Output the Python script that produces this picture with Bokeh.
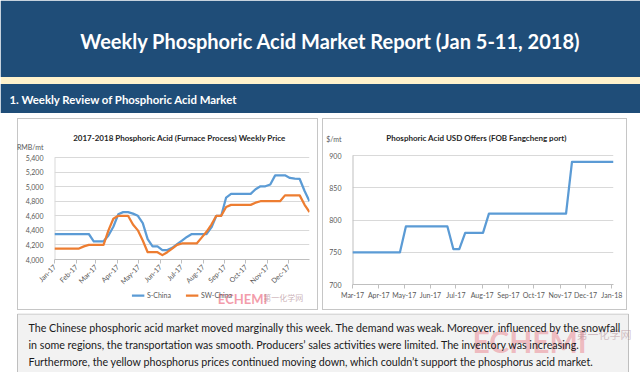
import math
import pandas as pd
from bokeh.plotting import figure
from bokeh.layouts import column, row
from bokeh.models import (Range1d, Label, Legend, LegendItem, MonthsTicker,
                          DatetimeTickFormatter, NumeralTickFormatter, FixedTicker)
from bokeh.core.properties import value
from bokeh.embed import file_html
from bokeh.resources import INLINE

# ---------------- data ----------------
report_title = "Weekly Phosphoric Acid Market Report (Jan 5-11, 2018)"
section_title = "1.  Weekly Review of Phosphoric Acid Market"
left_title = "2017-2018 Phosphoric Acid (Furnace Process) Weekly Price"
left_unit = "RMB/mt"
right_title = "Phosphoric Acid USD Offers (FOB Fangcheng port)"
right_unit = "$/mt"
series_names = ["S-China", "SW-China"]

week_dates = pd.date_range("2017-01-01", periods=53, freq="7D")
s_china = [4350, 4350, 4350, 4350, 4350, 4350, 4350, 4350, 4250, 4250,
           4250, 4330, 4450, 4620, 4650, 4650, 4630, 4600, 4500, 4280,
           4180, 4180, 4130, 4130, 4160, 4210, 4260, 4310, 4350, 4350,
           4350, 4350, 4440, 4600, 4600, 4850, 4900, 4900, 4900, 4900,
           4900, 4965, 5005, 5005, 5030, 5155, 5155, 5155, 5120, 5110,
           5105, 4940, 4800]
sw_china = [4150, 4150, 4150, 4150, 4150, 4150, 4180, 4200, 4200, 4200,
            4200, 4400, 4560, 4600, 4600, 4600, 4480, 4400, 4260, 4100,
            4100, 4100, 4060, 4100, 4150, 4200, 4220, 4220, 4220, 4220,
            4300, 4380, 4480, 4600, 4600, 4720, 4750, 4750, 4750, 4750,
            4750, 4780, 4800, 4800, 4800, 4800, 4800, 4880, 4880, 4880,
            4880, 4750, 4650]
left_yticks = [4000, 4200, 4400, 4600, 4800, 5000, 5200, 5400]

usd_dates = pd.date_range("2017-03-01", periods=45, freq="7D")
usd_offers = [750, 750, 750, 750, 750, 750, 750, 750, 750,
              790, 790, 790, 790, 790, 790, 790, 790,
              755, 755,
              780, 780, 780, 780,
              810, 810, 810, 810, 810, 810, 810, 810, 810, 810, 810, 810, 810, 810,
              890, 890, 890, 890, 890, 890, 890, 890]
right_yticks = [700, 750, 800, 850, 900]

body_lines = [
    "The Chinese phosphoric acid market moved marginally this week. The demand was weak. Moreover, influenced by the snowfall",
    "in some regions, the transportation was smooth. Producers\u2019 sales activities were limited. The inventory was increasing.",
    "Furthermore, the yellow phosphorus prices continued moving down, which couldn\u2019t support the phosphorus acid market.",
]

# ---------------- style ----------------
NAVY = "#1f4d78"
CREAM = "#fff2cc"
BLUE = "#5b9bd5"
ORANGE = "#ed7d31"
GRID = "#d9d9d9"
AXIS_LINE = "#bfbfbf"
AXIS_TXT = "#595959"
TITLE_TXT = "#262626"
BOX_C = "#c6c6c6"
FONT = "Lato"
W, H = 640, 372
MID_TOP, MID_H = 113, 200
LEG_H = 22                      # strip under the left chart that holds its legend
PL_H = MID_H - LEG_H
BOX_BOTTOM = 310


def canvas_fig(w, h, y0, x0=0):
    f = figure(width=w, height=h, x_range=Range1d(x0, x0 + w), y_range=Range1d(y0 + h, y0),
               output_backend="svg", toolbar_location=None, min_border=0,
               x_axis_type=None, y_axis_type=None)
    f.grid.visible = False
    f.outline_line_color = None
    f.border_fill_alpha = 0
    f.background_fill_alpha = 0
    return f


def lines_css(rects):
    """thin box-border strokes painted as CSS backgrounds: list of (x, y, w, h)"""
    g = f"linear-gradient({BOX_C},{BOX_C})"
    return {
        "background-image": ", ".join([g] * len(rects)),
        "background-position": ", ".join(f"{x}px {y}px" for x, y, w, h in rects),
        "background-size": ", ".join(f"{w}px {h}px" for x, y, w, h in rects),
        "background-repeat": "no-repeat",
    }


def ms(ts):
    return pd.Timestamp(ts).value / 1e6


# ---------------- header ----------------
head = canvas_fig(W, MID_TOP, 0)
head.quad(left=[0], right=[W], top=[0], bottom=[76.5], fill_color=NAVY, line_color=None)
head.quad(left=[0], right=[W], top=[76.5], bottom=[83.5], fill_color=CREAM, line_color=None)
head.quad(left=[0], right=[W], top=[83.5], bottom=[MID_TOP], fill_color=NAVY, line_color=None)
head.text(x=[330], y=[40], text=[report_title], text_align="center", text_baseline="middle",
          text_font=value(FONT), text_font_style="bold", text_font_size="20px", text_color="white")
head.text(x=[9], y=[98.5], text=[section_title], text_align="left", text_baseline="middle",
          text_font=value(FONT), text_font_style="bold", text_font_size="11.4px", text_color="white")


def style_chart(p, yticks, unit_tick, unit_text, fmt):
    p.outline_line_color = None
    p.border_fill_alpha = 0
    p.xgrid.visible = False
    p.ygrid.grid_line_color = GRID
    p.ygrid.ticker = FixedTicker(ticks=yticks)
    p.yaxis.ticker = FixedTicker(ticks=yticks + [unit_tick])
    if fmt:
        p.yaxis.formatter = NumeralTickFormatter(format=fmt)
    p.yaxis.major_label_overrides = {unit_tick: unit_text}
    p.yaxis.major_tick_line_color = None
    p.yaxis.minor_tick_line_color = None
    p.yaxis.axis_line_color = None
    p.yaxis.major_label_standoff = 5
    p.xaxis.ticker = MonthsTicker(months=list(range(12)))
    p.xaxis.formatter = DatetimeTickFormatter(days="%b-%y", months="%b-%y", years="%b-%y")
    p.xaxis.axis_line_color = AXIS_LINE
    p.xaxis.major_tick_line_color = AXIS_LINE
    p.xaxis.major_tick_in = 0
    p.xaxis.major_tick_out = 4
    p.xaxis.major_label_standoff = 2
    p.xaxis.minor_tick_line_color = None
    for ax in (p.xaxis, p.yaxis):
        ax.major_label_text_font = FONT
        ax.major_label_text_font_size = "7px"
        ax.major_label_text_color = AXIS_TXT


def frame_map(x0, x1, y0, y1, fl, fr, fb, ft):
    """page pixel -> data converters for a frame spanning fl..fr and fb(bottom)..ft(top)"""
    def fx(px):
        return x0 + (px - fl) / (fr - fl) * (x1 - x0)

    def fy(py):
        return y0 + (fb - py) / (fb - ft) * (y1 - y0)
    return fx, fy


# ---------------- left chart (page 0..320, box 17..318 x 118..310) ----------------
lx0, lx1 = ms(week_dates[0]), ms(week_dates[-1])
lfx, lfy = frame_map(lx0, lx1, 4000, 5400, 54, 309, 259, 157)
pl = figure(frame_width=255, frame_height=137, x_axis_type="datetime",
            x_range=Range1d(lx0, lx1), y_range=Range1d(4000, lfy(122)),
            output_backend="svg", toolbar_location=None,
            min_border_left=54, min_border_right=11, min_border_top=9,
            min_border_bottom=PL_H - 9 - 137,
            styles=lines_css([(17, 5, 301, 1), (17, 5, 1, PL_H), (317, 5, 1, PL_H)]))
style_chart(pl, left_yticks, round(lfy(146.5)), left_unit, "0,0")
pl.xaxis.major_label_orientation = math.pi / 4
pl.segment(x0=[lx0], y0=[4000], x1=[lx0], y1=[5400], line_color=GRID, line_width=2)
pl.line(week_dates, s_china, line_color=BLUE, line_width=2.25, line_join="round")
pl.line(week_dates, sw_china, line_color=ORANGE, line_width=2.25, line_join="round")
pl.add_layout(Label(x=lfx(179), y=lfy(137), text=left_title, text_font=FONT,
                    text_font_size="8px", text_font_style="bold", text_color=TITLE_TXT,
                    text_align="center", text_baseline="middle"))

# legend strip under the left chart
strip_top = MID_TOP + PL_H
legf = canvas_fig(320, LEG_H, strip_top)
sh = BOX_BOTTOM - strip_top
legf.styles = lines_css([(17, 0, 1, sh), (317, 0, 1, sh), (17, sh - 1, 301, 1)])
legf.text(x=[205], y=[strip_top + 7], text=["ECHEMI"], text_align="left", text_baseline="middle",
          text_font=value(FONT), text_font_style="bold", text_font_size="13px",
          text_color="#ee6f86", text_alpha=0.7)
legf.text(x=[262], y=[strip_top + 6], text=["第一化学网"], text_align="left", text_baseline="middle",
          text_font=value("Noto Sans CJK SC"), text_font_size="8px",
          text_color="#b58f98", text_alpha=0.7)
# legend proxies: styled like the chart lines, their points lie off the strip
g1 = legf.line(x=[-60, -50], y=[strip_top, strip_top], line_color=BLUE, line_width=2.25)
g2 = legf.line(x=[-60, -50], y=[strip_top, strip_top], line_color=ORANGE, line_width=2.25)
leg = Legend(items=[LegendItem(label=series_names[0], renderers=[g1]),
                    LegendItem(label=series_names[1], renderers=[g2])],
             orientation="horizontal", location="top_center",
             padding=0, margin=0, spacing=14, glyph_width=13, glyph_height=8,
             label_height=8, label_standoff=3,
             label_text_font=FONT, label_text_font_size="7px", label_text_color=AXIS_TXT,
             border_line_color=None, background_fill_alpha=0)
legf.add_layout(leg)

# ---------------- right chart (page 320..640, box 322..627 x 118..310) ----------------
rx0, rx1 = ms(usd_dates[0]), ms(usd_dates[-1])
rfx, rfy = frame_map(rx0, rx1, 700, 900, 352, 613, 284, 155)
pr = figure(frame_width=261, frame_height=162, x_axis_type="datetime",
            x_range=Range1d(rx0, rx1), y_range=Range1d(700, rfy(122)),
            output_backend="svg", toolbar_location=None,
            min_border_left=32, min_border_right=27, min_border_top=9, min_border_bottom=29,
            styles=lines_css([(2, 5, 305, 1), (2, 196, 305, 1), (2, 5, 1, 192), (306, 5, 1, 192)]))
style_chart(pr, right_yticks, round(rfy(138)), right_unit, None)
pr.segment(x0=[rx0], y0=[700], x1=[rx0], y1=[900], line_color=AXIS_LINE, line_width=2)
pr.line(usd_dates, usd_offers, line_color=BLUE, line_width=2.25, line_join="round")
pr.add_layout(Label(x=rfx(476), y=rfy(137), text=right_title, text_font=FONT,
                    text_font_size="8px", text_font_style="bold", text_color=TITLE_TXT,
                    text_align="center", text_baseline="middle"))

# ---------------- body text ----------------
body = canvas_fig(W, H - MID_TOP - MID_H, MID_TOP + MID_H)
body.quad(left=[17], right=[628], top=[313.5], bottom=[374], fill_color="#f2f2f2", line_color="#bfbfbf")
body.text(x=[472], y=[340], text=["ECHEMI"], text_align="left", text_baseline="middle",
          text_font=value(FONT), text_font_style="bold", text_font_size="30px",
          text_color="#e8606f", text_alpha=0.4)
body.text(x=[576], y=[333], text=["第一化学网"], text_align="left", text_baseline="middle",
          text_font=value("Noto Sans CJK SC"), text_font_size="11px",
          text_color="#b08890", text_alpha=0.5)
body.text(x=[28, 28, 28], y=[327, 344, 361], text=body_lines, text_align="left",
          text_baseline="middle", text_font=value(FONT), text_font_size="10.7px", text_color="#1a1a1a")

layout = column(head, row(column(pl, legf), pr), body)
open("out.html", "w").write(file_html(layout, INLINE))
